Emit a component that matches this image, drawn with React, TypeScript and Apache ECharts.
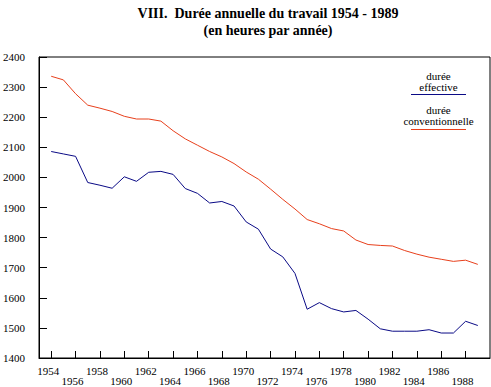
import React, { useEffect, useRef } from "react";
import * as echarts from "echarts";

const YEARS = [
  1954, 1955, 1956, 1957, 1958, 1959, 1960, 1961, 1962, 1963, 1964, 1965,
  1966, 1967, 1968, 1969, 1970, 1971, 1972, 1973, 1974, 1975, 1976, 1977,
  1978, 1979, 1980, 1981, 1982, 1983, 1984, 1985, 1986, 1987, 1988, 1989,
];

const DUREE_EFFECTIVE = [
  2086, 2078, 2070, 1983, 1974, 1964, 2002, 1987, 2017, 2020, 2010, 1963,
  1947, 1915, 1920, 1905, 1852, 1828, 1762, 1736, 1681, 1562, 1584, 1564,
  1553, 1558, 1529, 1497, 1489, 1489, 1489, 1494, 1483, 1483, 1522, 1508,
];

const DUREE_CONVENTIONNELLE = [
  2336, 2324, 2278, 2240, 2230, 2219, 2203, 2194, 2194, 2187, 2155, 2128,
  2107, 2086, 2068, 2046, 2018, 1994, 1961, 1927, 1895, 1860, 1846, 1830,
  1822, 1792, 1777, 1774, 1772, 1757, 1745, 1735, 1728, 1721, 1725, 1711,
];

const TICK_YEARS = [
  1954, 1956, 1958, 1960, 1962, 1964, 1966, 1968, 1970, 1972, 1974, 1976,
  1978, 1980, 1982, 1984, 1986, 1988,
];
const LABEL_YEARS_UPPER = [1954, 1958, 1962, 1966, 1970, 1974, 1978, 1982, 1986];
const LABEL_YEARS_LOWER = [1956, 1960, 1964, 1968, 1972, 1976, 1980, 1984, 1988];

const TITLE_LINE_1 = "VIII.  Durée annuelle du travail 1954 - 1989";
const TITLE_LINE_2 = "(en heures par année)";
const LEGEND_EFFECTIVE = ["durée", "effective"];
const LEGEND_CONVENTIONNELLE = ["durée", "conventionnelle"];

const BLUE = "#0a0a86";
const RED = "#e8401c";
const SERIF = "Liberation Serif";

export default function App() {
  const ref = useRef<HTMLDivElement>(null);

  useEffect(() => {
    if (!ref.current) return;
    const chart = echarts.init(ref.current, null, { renderer: "svg" });

    const legendText = (text: string, x: number, y: number) => ({
      type: "text",
      x,
      y,
      silent: true,
      style: {
        text,
        fill: "#000",
        fontFamily: SERIF,
        fontSize: 11,
        align: "center",
        verticalAlign: "middle",
        textAlign: "center",
        textVerticalAlign: "middle",
      },
    });

    const xLabel = (values: number[], margin: number) => ({
      customValues: values,
      showMinLabel: true,
      showMaxLabel: true,
      hideOverlap: false,
      formatter: (v: number) => String(v),
      margin,
      fontFamily: SERIF,
      fontSize: 11,
      lineHeight: 10,
      color: "#000",
      padding: [0, 6, 0, 0],
    });

    chart.setOption({
      animation: false,
      backgroundColor: "#ffffff",
      title: {
        text: TITLE_LINE_1 + "\n" + TITLE_LINE_2,
        left: 263,
        top: 0,
        textAlign: "center",
        textStyle: {
          fontFamily: SERIF,
          fontSize: 14,
          fontWeight: "bold",
          lineHeight: 17,
          color: "#000",
        },
      },
      grid: {
        left: 36,
        right: 1,
        top: 57,
        bottom: 29,
        show: true,
        borderColor: "#000",
        borderWidth: 1,
        backgroundColor: "transparent",
      },
      xAxis: [
        {
          type: "value",
          position: "bottom",
          min: 1953,
          max: 1990,
          axisLine: { show: true, lineStyle: { color: "#000", width: 1 } },
          axisTick: {
            show: true,
            inside: true,
            length: 7,
            customValues: TICK_YEARS,
            lineStyle: { color: "#000" },
          },
          axisLabel: xLabel(LABEL_YEARS_UPPER, 8),
          splitLine: { show: false },
        },
        {
          type: "value",
          position: "bottom",
          offset: 0,
          min: 1953,
          max: 1990,
          axisLine: { show: false },
          axisTick: { show: false },
          axisLabel: xLabel(LABEL_YEARS_LOWER, 18),
          splitLine: { show: false },
        },
      ],
      yAxis: {
        type: "value",
        min: 1400,
        max: 2400,
        interval: 100,
        axisLine: { show: true, lineStyle: { color: "#000", width: 1 } },
        axisTick: {
          show: true,
          inside: true,
          length: 8,
          lineStyle: { color: "#000" },
        },
        axisLabel: {
          margin: 14,
          fontFamily: SERIF,
          fontSize: 11,
          color: "#000",
          formatter: (v: number) => String(v),
        },
        splitLine: { show: false },
      },
      series: [
        {
          name: "durée effective",
          type: "line",
          xAxisIndex: 0,
          data: YEARS.map((y, i) => [y, DUREE_EFFECTIVE[i]]),
          showSymbol: false,
          symbol: "none",
          lineStyle: { color: BLUE, width: 1 },
          itemStyle: { color: BLUE },
        },
        {
          name: "durée conventionnelle",
          type: "line",
          xAxisIndex: 0,
          data: YEARS.map((y, i) => [y, DUREE_CONVENTIONNELLE[i]]),
          showSymbol: false,
          symbol: "none",
          lineStyle: { color: RED, width: 1 },
          itemStyle: { color: RED },
        },
      ],
      graphic: [
        legendText(LEGEND_EFFECTIVE[0], 438.5, 75.5),
        legendText(LEGEND_EFFECTIVE[1], 438.5, 86.5),
        {
          type: "line",
          silent: true,
          shape: { x1: 411, y1: 94.5, x2: 466, y2: 94.5 },
          style: { stroke: BLUE, lineWidth: 1 },
        },
        legendText(LEGEND_CONVENTIONNELLE[0], 438.5, 109.5),
        legendText(LEGEND_CONVENTIONNELLE[1], 438.5, 120.5),
        {
          type: "line",
          silent: true,
          shape: { x1: 411, y1: 129.5, x2: 466, y2: 129.5 },
          style: { stroke: RED, lineWidth: 1 },
        },
      ],
    });

    return () => {
      chart.dispose();
    };
  }, []);

  return (
    <div
      ref={ref}
      style={{ position: "fixed", left: 0, top: 0, width: 491, height: 387 }}
    />
  );
}
